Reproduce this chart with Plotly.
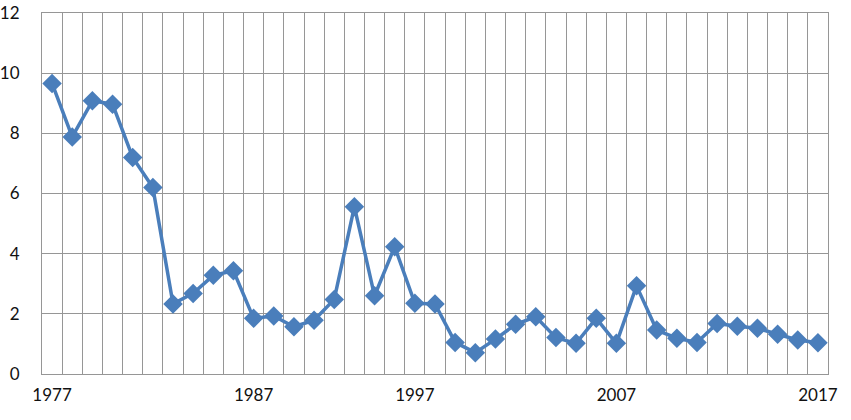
import plotly.graph_objects as go

# years on the category axis (two years absent between 1987 and 1997 in the source)
years = ['1977', '1978', '1979', '1980', '1981', '1982', '1983', '1984', '1985',
         '1986', '1987', '1988', '1989', '1992', '1993', '1994', '1995', '1996',
         '1997', '1998', '1999', '2000', '2001', '2002', '2003', '2004', '2005',
         '2006', '2007', '2008', '2009', '2010', '2011', '2012', '2013', '2014',
         '2015', '2016', '2017']
values = [9.66, 7.88, 9.08, 8.97, 7.2, 6.2, 2.33, 2.68, 3.28, 3.43,
          1.85, 1.93, 1.57, 1.79, 2.48, 5.56, 2.6, 4.23, 2.35, 2.33,
          1.05, 0.71, 1.16, 1.65, 1.9, 1.21, 1.02, 1.85, 1.02, 2.93,
          1.46, 1.19, 1.05, 1.68, 1.59, 1.52, 1.32, 1.13, 1.04]
shown_labels = ['1977', '1987', '1997', '2007', '2017']

blue = '#4a7ebb'
grid = '#969696'

fig = go.Figure()
fig.add_trace(go.Scatter(x=years, y=values, mode='lines+markers',
                         line=dict(color=blue, width=3.5),
                         marker=dict(symbol='diamond', size=15, color=blue),
                         showlegend=False, cliponaxis=False))

fig.update_layout(
    width=851, height=420,
    margin=dict(l=42, r=23, t=13, b=46),
    paper_bgcolor='white', plot_bgcolor='white',
    font=dict(family='Lato', size=17, color='#111111'),
)
fig.update_xaxes(
    type='category', range=[-0.5, len(years) - 0.5],
    tickson='boundaries', tickmode='array', tickvals=years,
    ticktext=[y if y in shown_labels else '' for y in years],
    tickangle=0, automargin=False, ticklabeloverflow='allow',
    showgrid=True, gridcolor=grid, gridwidth=1,
    showline=True, linecolor=grid, mirror=True,
    ticks='', ticklabelstandoff=6,
)
fig.update_yaxes(
    range=[0, 12], dtick=2, showgrid=True, gridcolor=grid, gridwidth=1,
    automargin=False, ticklabeloverflow='allow',
    zeroline=False, showline=True, linecolor=grid, mirror=True,
    ticks='', ticklabelstandoff=18,
)

# the page's default body margin would push the chart 8px right and down
fig.write_html('out.html', config={'displayModeBar': False},
               post_script="document.body.style.margin = '0px';")
